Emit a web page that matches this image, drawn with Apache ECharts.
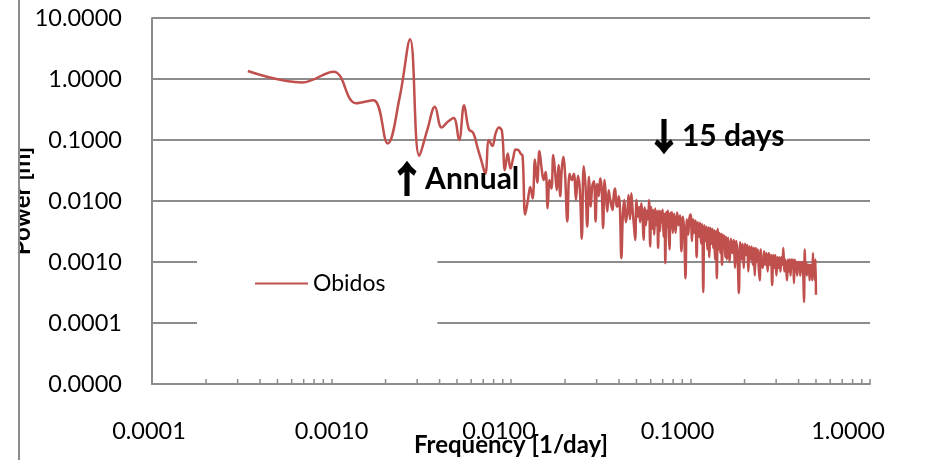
<!DOCTYPE html>
<html><head><meta charset="utf-8">
<script src="https://cdn.jsdelivr.net/npm/echarts@6/dist/echarts.min.js"></script>
<style>html,body{margin:0;padding:0;background:#fff}#c{width:926px;height:460px}</style>
</head><body><div id="c"></div>
<script>
const seriesName = 'Obidos';
const xAxisTitle = 'Frequency [1/day]';
const yAxisTitle = 'Power [m]';
const xTickLabels = ['0.0001', '0.0010', '0.0100', '0.1000', '1.0000'];
const yTickLabels = ['0.0000', '0.0001', '0.0010', '0.0100', '0.1000', '1.0000', '10.0000'];
const minorTickValues = [0.0002,0.0003,0.0004,0.0005,0.0006,0.0007,0.0008,0.0009,
  0.002,0.003,0.004,0.005,0.006,0.007,0.008,0.009,
  0.02,0.03,0.04,0.05,0.06,0.07,0.08,0.09,
  0.2,0.3,0.4,0.5,0.6,0.7,0.8,0.9];

// low-frequency (smooth) part
const freqLow = [0.000342,0.000685,0.001027,0.001370,0.001712,0.002055,0.002397,0.002740,0.003082,0.003425,0.003767,0.004110,0.004452,0.004795,0.005137,0.005479,0.005822,0.006164,0.006507,0.006849,0.007192,0.007534,0.007877,0.008219,0.008562,0.008904,0.009247,0.009589,0.009932,0.010274,0.010616,0.010959,0.011301];
const powerLow = [1.35,0.88,1.32,0.40,0.45,0.088,0.5,4.5,0.055,0.15,0.35,0.16,0.20,0.23,0.10,0.37,0.15,0.13,0.075,0.045,0.028,0.10,0.08,0.13,0.16,0.14,0.032,0.06,0.034,0.05,0.07,0.069,0.06];

const freqB1 = [0.0116,0.0120,0.0124,0.0128,0.0132,0.0136,0.0140,0.0144,0.0148,0.0152,0.0156,0.0160,0.0164,0.0168,0.0172,0.0176,0.0180,0.0184,0.0188,0.0192,0.0196,0.0200];
const powerB1 = [0.055,0.006,0.010,0.017,0.011,0.048,0.020,0.066,0.035,0.022,0.030,0.0076,0.022,0.016,0.057,0.030,0.015,0.039,0.012,0.035,0.053,0.028];

const freqB2 = [0.0206,0.0212,0.0218,0.0224,0.0230,0.0236,0.0242,0.0248,0.0254,0.0260,0.0266,0.0272,0.0278,0.0284,0.0290,0.0296,0.0302,0.0308,0.0314,0.0320,0.0326,0.0332,0.0338,0.0344,0.0350,0.0356,0.0362,0.0368,0.0374,0.0380,0.0386,0.0392,0.0398];
const powerB2 = [0.0046,0.028,0.022,0.028,0.0104,0.026,0.015,0.0024,0.037,0.018,0.0038,0.025,0.0081,0.018,0.021,0.0046,0.019,0.012,0.0235,0.016,0.0036,0.022,0.012,0.0067,0.015,0.011,0.0085,0.0071,0.013,0.016,0.009,0.0081,0.012];

const freqB3 = [0.0404,0.0412,0.0420,0.0428,0.0436,0.0444,0.0452,0.0460,0.0468,0.0476,0.0484,0.0492,0.0500,0.0508,0.0516,0.0524,0.0532,0.0540,0.0548,0.0556,0.0564,0.0572,0.0580,0.0588,0.0596,0.0604,0.0612,0.0620,0.0628,0.0636,0.0644,0.0652,0.0660,0.0668,0.0676,0.0684,0.0692,0.0700,0.0708,0.0716,0.0724,0.0732,0.0740,0.0748,0.0756,0.0764,0.0772,0.0780,0.0788,0.0796];
const powerB3 = [0.0085,0.00115,0.0060,0.0104,0.0045,0.0062,0.0125,0.0050,0.0134,0.0070,0.0040,0.0023,0.0104,0.0055,0.0080,0.0045,0.0092,0.0060,0.0023,0.0078,0.0040,0.0070,0.0050,0.0104,0.0018,0.0080,0.0035,0.0072,0.0028,0.0075,0.0040,0.0068,0.0017,0.0070,0.0032,0.0068,0.0045,0.0072,0.0026,0.0062,0.00095,0.0066,0.0038,0.0070,0.0030,0.0016,0.0064,0.0036,0.0066,0.0030];

const freqB4 = [0.0810,0.0826,0.0842,0.0858,0.0874,0.0890,0.0906,0.0922,0.0938,0.0954,0.0970,0.0986,0.1002,0.1018,0.1034,0.1050,0.1066,0.1082,0.1098,0.1114,0.1130,0.1146,0.1162,0.1178,0.1194,0.1210,0.1226,0.1242,0.1258,0.1274,0.1290,0.1306,0.1322,0.1338,0.1354,0.1370,0.1386,0.1402,0.1418,0.1434,0.1450,0.1466,0.1482,0.1498,0.1514,0.1530,0.1546,0.1562,0.1578,0.1594];
const powerB4 = [0.0062,0.0030,0.0065,0.0040,0.0058,0.0015,0.0055,0.0032,0.00054,0.0050,0.0028,0.0052,0.0060,0.0022,0.0050,0.0030,0.0048,0.0012,0.0045,0.0026,0.0044,0.0020,0.0042,0.00032,0.0040,0.0022,0.0038,0.0016,0.0037,0.0012,0.0036,0.0020,0.0035,0.0017,0.0033,0.0011,0.0032,0.00054,0.0035,0.0016,0.0030,0.0014,0.0029,0.0009,0.0028,0.0017,0.0027,0.0012,0.0026,0.0011];

const freqB5 = [0.162,0.165,0.168,0.171,0.174,0.177,0.180,0.183,0.186,0.189,0.192,0.195,0.198,0.201,0.204,0.207,0.210,0.213,0.216,0.219,0.222,0.225,0.228,0.231,0.234,0.237,0.240,0.243,0.246,0.249];
const powerB5 = [0.0025,0.0010,0.0024,0.0014,0.0023,0.0008,0.0022,0.0012,0.00031,0.0021,0.0011,0.0020,0.0008,0.0020,0.0013,0.0019,0.0007,0.0018,0.0011,0.0018,0.0009,0.0017,0.0006,0.0017,0.0010,0.0016,0.0008,0.0005,0.0016,0.0009];

const freqB6 = [0.253,0.257,0.261,0.265,0.269,0.273,0.277,0.281,0.285,0.289,0.293,0.297,0.301,0.305,0.309,0.313,0.317,0.321,0.325,0.329,0.333,0.337,0.341,0.345,0.349,0.353,0.357,0.361,0.365,0.369,0.373,0.377,0.381,0.385,0.389,0.393,0.397,0.401,0.405,0.409,0.413,0.417,0.421,0.425,0.429,0.433,0.437,0.441,0.445,0.449,0.453,0.457,0.461,0.465,0.469,0.473,0.477,0.481,0.485,0.489,0.493,0.497,0.500];
const powerB6 = [0.0008,0.0015,0.0009,0.0014,0.0007,0.0014,0.0009,0.0013,0.00042,0.0013,0.0008,0.0013,0.0006,0.0012,0.0008,0.0012,0.0007,0.0012,0.0009,0.0017,0.0007,0.0011,0.0008,0.0005,0.0011,0.0007,0.0011,0.0006,0.0011,0.0008,0.0011,0.00045,0.0011,0.0007,0.0010,0.0006,0.0010,0.0008,0.0010,0.0006,0.0010,0.0007,0.0010,0.0006,0.00022,0.0016,0.0007,0.0010,0.0006,0.0009,0.0007,0.0009,0.0005,0.0009,0.0006,0.0009,0.0005,0.0014,0.0006,0.0009,0.0005,0.0011,0.00029];

const annotationText = ['Annual', '15 days'];
const annotationArrow = ['\u2191', '\u2193'];
const annotationFreq = [0.00274, 0.0667];
const annotationPower = [0.023, 0.116];

const freqAll = [].concat(freqLow, freqB1, freqB2, freqB3, freqB4, freqB5, freqB6);
const powerAll = [].concat(powerLow, powerB1, powerB2, powerB3, powerB4, powerB5, powerB6);
const lineData = freqAll.map((f, i) => [f, powerAll[i]]);

const gridColor = '#8c8c8c';
const red = '#C0504D';
const fontBase = 'Lato';
const labelFont = {fontFamily: fontBase, fontSize: 23.5, color: '#000'};

const chart = echarts.init(document.getElementById('c'), null, {renderer: 'canvas'});
chart.setOption({
  backgroundColor: '#fff',
  animation: false,
  grid: {left: 152, right: 56, top: 18, bottom: 76, containLabel: false, outerBoundsMode: 'none'},
  legend: {
    data: [seriesName], left: 197, top: 236, backgroundColor: '#fff',
    padding: [36, 52, 40, 58], icon: 'rect', itemWidth: 53, itemHeight: 2,
    textStyle: {fontFamily: fontBase, fontSize: 23, color: '#000'}, z: 5
  },
  xAxis: {
    type: 'log', logBase: 10, min: 0.0001, max: 1, interval: 1,
    name: xAxisTitle, nameLocation: 'middle', nameGap: 49, nameMoveOverlap: false,
    nameTextStyle: {fontFamily: fontBase, fontWeight: 'bold', fontSize: 24, color: '#000'},
    axisLine: {show: true, lineStyle: {color: gridColor, width: 2}},
    axisTick: {show: true, inside: true, length: 5, lineStyle: {color: gridColor, width: 1.5}},
    splitLine: {show: false},
    minorTick: {show: false},
    axisLabel: {
      margin: 35, fontFamily: fontBase, fontSize: 23.5, color: '#000',
      showMinLabel: true, showMaxLabel: true, hideOverlap: false,
      formatter: v => {
        const i = Math.round(Math.log10(v)) + 4;
        return '{s' + i + '|' + xTickLabels[i] + '}';
      },
      rich: {
        s0: Object.assign({padding: [0, 6, 0, 0]}, labelFont),
        s1: Object.assign({padding: [0, 0, 0, 0]}, labelFont),
        s2: Object.assign({padding: [0, 24, 0, 0]}, labelFont),
        s3: Object.assign({padding: [0, 26, 0, 0]}, labelFont),
        s4: Object.assign({padding: [0, 44, 0, 0]}, labelFont)
      }
    }
  },
  yAxis: {
    type: 'log', logBase: 10, min: 0.00001, max: 10, interval: 1,
    name: yAxisTitle, nameLocation: 'middle', nameRotate: 90, nameGap: 118, nameMoveOverlap: false,
    nameTextStyle: {fontFamily: fontBase, fontWeight: 'bold', fontSize: 24, color: '#000'},
    axisLine: {show: true, lineStyle: {color: gridColor, width: 2}},
    axisTick: {show: false},
    splitLine: {show: true, lineStyle: {color: gridColor, width: 2}},
    axisLabel: {
      margin: 30, fontFamily: fontBase, fontSize: 23.5, color: '#000',
      showMinLabel: true, showMaxLabel: true, hideOverlap: false,
      formatter: v => yTickLabels[Math.round(Math.log10(v)) + 5]
    }
  },
  series: [
    {
      name: seriesName, type: 'line', data: lineData, smooth: 0.4,
      showSymbol: false, symbol: 'none', z: 3,
      lineStyle: {color: red, width: 2.5}, itemStyle: {color: red},
      markPoint: {
        symbol: 'circle', symbolSize: 0, silent: true,
        data: annotationText.map((t, i) => ({
          coord: [annotationFreq[i], annotationPower[i]],
          label: {
            show: true, position: 'inside', align: 'left', verticalAlign: 'middle',
            offset: [i === 0 ? -21 : -13, 0],
            formatter: '{a|' + annotationArrow[i] + '}{b|' + t + '}',
            rich: {
              a: {fontFamily: 'Noto Sans CJK SC', fontWeight: 'bold', fontSize: 36, color: '#000',
                  textBorderColor: '#000', textBorderWidth: 1.5},
              b: {fontFamily: fontBase, fontWeight: 'bold', fontSize: 30, color: '#000'}
            }
          }
        }))
      }
    },
    {
      type: 'custom', silent: true, z: 2,
      data: minorTickValues.map(v => [v, 0.00001]),
      renderItem: (params, api) => {
        const p = api.coord([api.value(0), api.value(1)]);
        return {type: 'line', shape: {x1: p[0], y1: p[1], x2: p[0], y2: p[1] - 5},
          style: {stroke: gridColor, lineWidth: 1.5}};
      }
    }
  ],
  graphic: [
    {type: 'rect', z: 100, shape: {x: 0, y: 0, width: 18, height: 460}, style: {fill: '#fff'}},
    {type: 'line', z: 101, shape: {x1: 19, y1: 0, x2: 19, y2: 460}, style: {stroke: gridColor, lineWidth: 2}}
  ]
});
</script>
</body></html>
